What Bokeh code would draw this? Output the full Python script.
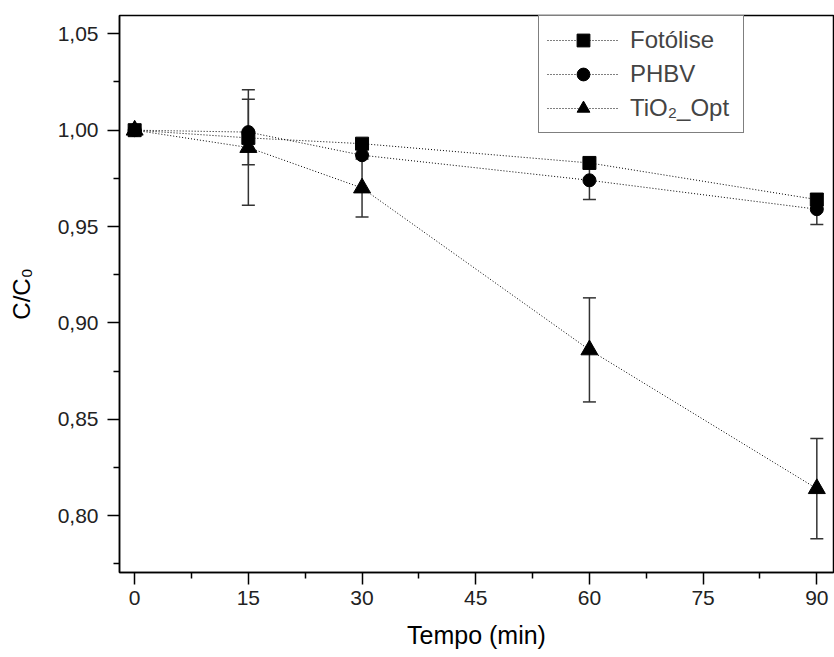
from bokeh.plotting import figure
from bokeh.models import (ColumnDataSource, Whisker, TeeHead, Legend, LegendItem,
                          CustomJSTickFormatter, FixedTicker, Range1d)
from bokeh.embed import file_html
from bokeh.resources import INLINE

# ---- data ----
tempo = [0, 15, 30, 60, 90]
fotolise = [1.000, 0.996, 0.993, 0.983, 0.964]
phbv = [1.000, 0.999, 0.987, 0.974, 0.959]
tio2 = [1.000, 0.991, 0.970, 0.886, 0.814]
phbv_err = [0.0, 0.017, 0.0, 0.010, 0.008]
tio2_err = [0.0, 0.030, 0.015, 0.027, 0.026]

x_ticks = [0, 15, 30, 45, 60, 75, 90]
y_ticks = [0.80, 0.85, 0.90, 0.95, 1.00, 1.05]

FONT = "Liberation Sans"

p = figure(width=834, height=657, output_backend="svg", toolbar_location=None,
           x_range=Range1d(-2, 92.2), y_range=Range1d(0.7705, 1.0595),
           min_border_left=119, min_border_right=1, min_border_top=15,
           min_border_bottom=85)
p.xgrid.visible = False
p.ygrid.visible = False
p.outline_line_color = "black"
p.outline_line_width = 1.5
p.background_fill_color = "white"
p.border_fill_color = "white"

for ax in (p.xaxis[0], p.yaxis[0]):
    ax.axis_line_width = 1.5
    ax.major_tick_line_width = 1.5
    ax.minor_tick_line_width = 1.5
    ax.major_tick_in = 0
    ax.major_tick_out = 12
    ax.minor_tick_in = 0
    ax.minor_tick_out = 6
    ax.major_label_text_font = FONT
    ax.major_label_text_font_size = "21px"
    ax.major_label_text_color = "#222222"
    ax.axis_label_text_font = FONT
    ax.axis_label_text_font_style = "normal"
    ax.axis_label_text_color = "black"

p.xaxis.axis_label_text_font_size = "25px"
p.yaxis.axis_label_text_font_size = "24px"
p.xaxis.ticker = FixedTicker(ticks=x_ticks, minor_ticks=[7.5 + 15 * i for i in range(6)])
p.yaxis.ticker = FixedTicker(ticks=y_ticks, minor_ticks=[0.775, 0.825, 0.875, 0.925, 0.975, 1.025])
p.yaxis.formatter = CustomJSTickFormatter(code="return tick.toFixed(2).replace('.', ',');")
p.xaxis.major_label_standoff = 6
p.yaxis.major_label_standoff = 9
p.xaxis.axis_label = "Tempo (min)"
p.yaxis.axis_label = "C/C₀"
p.xaxis.axis_label_standoff = 13
p.yaxis.axis_label_standoff = 20

src = ColumnDataSource(dict(x=tempo, f=fotolise, p=phbv, t=tio2,
                            p_up=[a + b for a, b in zip(phbv, phbv_err)],
                            p_lo=[a - b for a, b in zip(phbv, phbv_err)],
                            t_up=[a + b for a, b in zip(tio2, tio2_err)],
                            t_lo=[a - b for a, b in zip(tio2, tio2_err)]))

for up, lo in (("p_up", "p_lo"), ("t_up", "t_lo")):
    w = Whisker(base="x", upper=up, lower=lo, source=src, line_color="#333333",
                line_width=1.5,
                upper_head=TeeHead(size=13, line_color="#333333", line_width=1.5),
                lower_head=TeeHead(size=13, line_color="#333333", line_width=1.5))
    p.add_layout(w)

items = []
specs = [("f", "square", 13, "Fotólise"), ("p", "circle", 13, "PHBV"), ("t", "triangle", 17, "TiO₂_Opt")]
for col, marker, size, label in specs:
    l = p.line("x", col, source=src, line_color="black", line_width=1, line_dash="1 2")
    m = p.scatter("x", col, source=src, marker=marker, size=size,
                  fill_color="black", line_color="black")
    items.append(LegendItem(label=label, renderers=[l, m]))

legend = Legend(items=items, location=(419, 439), orientation="vertical",
                label_text_font=FONT, label_text_font_size="24px",
                label_height=32, glyph_height=32, glyph_width=72, spacing=2,
                padding=8, margin=0, label_standoff=11, label_width=105,
                border_line_color="black", border_line_width=1.5,
                background_fill_color="white", background_fill_alpha=1)
p.add_layout(legend, "center")

open("out.html", "w").write(file_html(p, INLINE))
